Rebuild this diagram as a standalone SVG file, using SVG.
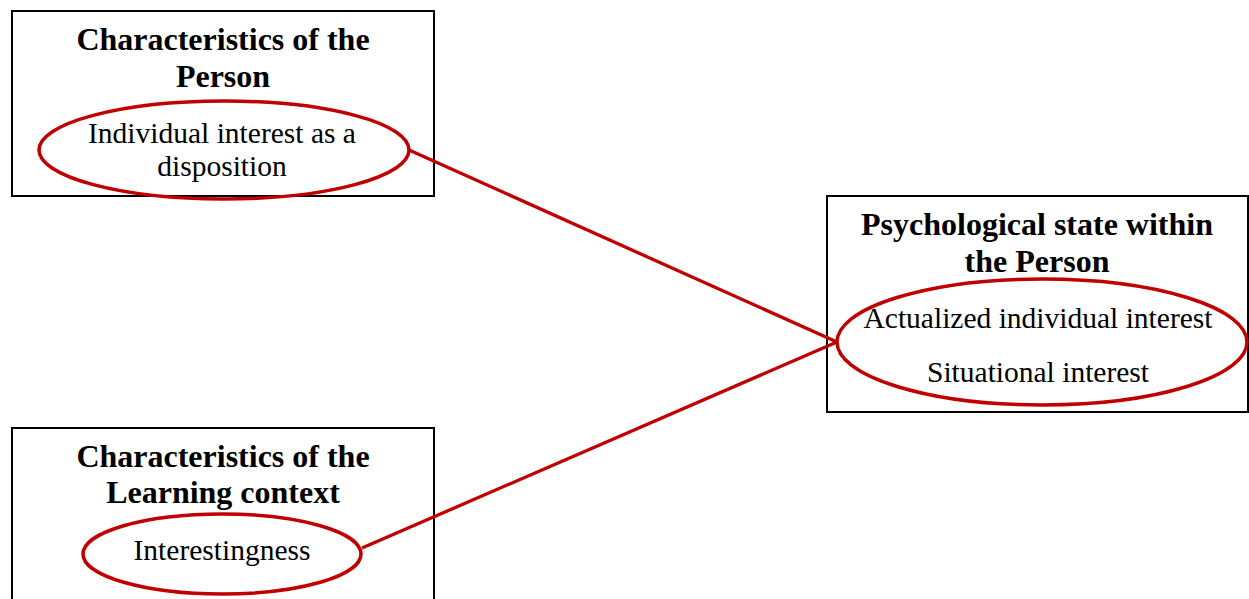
<svg xmlns="http://www.w3.org/2000/svg" width="1249" height="599" viewBox="0 0 1249 599">
<style>
.box{fill:#fff;stroke:#000;stroke-width:2}
.ell{fill:none;stroke:#c00000;stroke-width:3.5}
.t{font-family:"Liberation Serif","Times New Roman",serif;fill:#000;text-anchor:middle}
.b{font-weight:bold;font-size:32px}
.r{font-size:29.5px}
.conn{stroke:#c00000;stroke-width:3.3;fill:none}
</style>
<rect width="1249" height="599" fill="#fff"/>
<g id="person">
<rect class="box" x="12" y="11" width="422" height="185"/>
<text class="t b" x="223" y="50">Characteristics of the</text>
<text class="t b" x="223" y="87">Person</text>
<ellipse class="ell" cx="224" cy="150" rx="185" ry="49"/>
<text class="t r" x="222" y="143">Individual interest as a</text>
<text class="t r" x="222" y="176">disposition</text>
</g>
<g id="state">
<rect class="box" x="827" y="196" width="421" height="216"/>
<text class="t b" x="1037" y="235">Psychological state within</text>
<text class="t b" x="1037" y="272">the Person</text>
<ellipse class="ell" cx="1042" cy="342" rx="205" ry="63"/>
<text class="t r" x="1038" y="328">Actualized individual interest</text>
<text class="t r" x="1038" y="382">Situational interest</text>
</g>
<g id="context">
<rect class="box" x="12" y="428" width="422" height="185"/>
<text class="t b" x="223" y="467">Characteristics of the</text>
<text class="t b" x="223" y="503">Learning context</text>
<ellipse class="ell" cx="222" cy="554" rx="139" ry="40"/>
<text class="t r" x="222" y="560">Interestingness</text>
</g>
<g id="connectors">
<line class="conn" x1="409" y1="150" x2="837" y2="342"/>
<line class="conn" x1="362" y1="548" x2="837" y2="342"/>
</g>
</svg>
